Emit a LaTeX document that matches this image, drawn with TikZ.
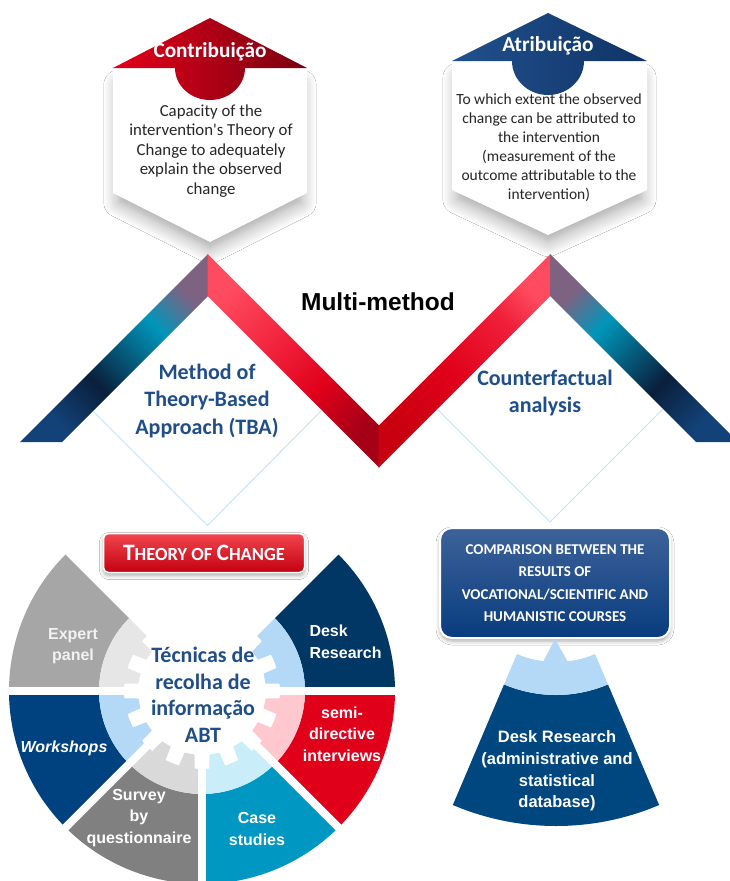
\documentclass[tikz,border=0pt]{standalone}
\usepackage{fontspec}
\setmainfont{Carlito}
\newfontfamily\arialfont{Liberation Sans}
\usetikzlibrary{calc,positioning,shadows.blur}

\definecolor{capred}{HTML}{E2001A}
\definecolor{capdark}{HTML}{7A0010}
\definecolor{capblue}{HTML}{21508E}
\definecolor{capblueD}{HTML}{0F3466}
\definecolor{txtblue}{HTML}{1F4E89}
\definecolor{linkblue}{HTML}{C6E0FA}
\definecolor{navyA}{HTML}{134279}
\definecolor{navyK}{HTML}{0A1F3C}
\definecolor{tealM}{HTML}{0096BA}
\definecolor{mauve}{HTML}{7E6282}
\definecolor{pinkR}{HTML}{FF4B5F}
\definecolor{redB}{HTML}{F0203A}
\definecolor{redM}{HTML}{E0001A}
\definecolor{redC}{HTML}{C8000F}
\definecolor{redD}{HTML}{A60017}
\definecolor{tocTop}{HTML}{F2454F}
\definecolor{tocBot}{HTML}{C4000F}
\definecolor{cmpTop}{HTML}{3D6299}
\definecolor{cmpBot}{HTML}{083C7E}
\definecolor{expertD}{HTML}{A6A6A6}
\definecolor{expertL}{HTML}{E6E6E6}
\definecolor{deskD}{HTML}{003764}
\definecolor{deskL}{HTML}{B4D9F7}
\definecolor{semiD}{HTML}{E0001A}
\definecolor{semiL}{HTML}{FFC7CE}
\definecolor{caseD}{HTML}{0098C3}
\definecolor{caseL}{HTML}{C9EEFA}
\definecolor{surveyD}{HTML}{808080}
\definecolor{surveyL}{HTML}{D9D9D9}
\definecolor{workD}{HTML}{00427F}
\definecolor{workL}{HTML}{B4D9F7}
\definecolor{coneD}{HTML}{00467F}
\definecolor{coneL}{HTML}{B4D9F7}

\pgfdeclarehorizontalshading{legup}{100bp}{color(0bp)=(navyA); color(25bp)=(navyA); color(40bp)=(navyK); color(62bp)=(tealM); color(74bp)=(mauve); color(100bp)=(mauve)}
\pgfdeclarehorizontalshading{legvdown}{100bp}{color(0bp)=(pinkR); color(25bp)=(pinkR); color(45bp)=(redB); color(60bp)=(redM); color(75bp)=(redD); color(100bp)=(redD)}
\pgfdeclarehorizontalshading{legvup}{100bp}{color(0bp)=(redC); color(25bp)=(redC); color(45bp)=(redM); color(65bp)=(redB); color(75bp)=(pinkR); color(100bp)=(pinkR)}
\pgfdeclarehorizontalshading{legdown}{100bp}{color(0bp)=(mauve); color(26bp)=(mauve); color(38bp)=(tealM); color(60bp)=(navyK); color(75bp)=(navyA); color(100bp)=(navyA)}

\newcommand{\bigsc}[1]{{\fontsize{23.5}{24}\selectfont #1}}

\begin{document}
\begin{tikzpicture}[x=1pt,y=-1pt,
  hexbody/.style={fill=white, blur shadow={shadow xshift=0pt, shadow yshift=-14pt, shadow scale=0.94, shadow blur radius=16pt, shadow blur steps=12, shadow opacity=38}},
  captitle/.style={text=white, font=\bfseries\fontsize{21.3}{24}\selectfont},
  hextxt/.style={align=center, text=black!85, font=\fontsize{15.5}{19}\selectfont},
  methodtxt/.style={align=center, text=txtblue, font=\bfseries\fontsize{22}{27.5}\selectfont},
  linkline/.style={draw=linkblue, line width=0.9pt},
  pielabel/.style={align=center, text=white, font=\arialfont\bfseries\fontsize{16}{21.7}\selectfont},
  tocbox/.style={rounded corners=5pt, draw=white, line width=1.5pt, top color=tocTop, bottom color=tocBot,
    minimum width=201pt, minimum height=39pt, text=white, font=\bfseries\fontsize{18.5}{20}\selectfont,
    blur shadow={shadow xshift=0pt, shadow yshift=-3pt, shadow blur radius=4pt, shadow opacity=35}},
  cmpbox/.style={rounded corners=12pt, draw=white, line width=2pt, top color=cmpTop, bottom color=cmpBot,
    minimum width=230pt, minimum height=110pt, text=white, align=center, font=\bfseries\fontsize{15}{22.5}\selectfont,
    blur shadow={shadow xshift=0pt, shadow yshift=-3pt, shadow blur radius=4pt, shadow opacity=35}}]

\useasboundingbox (0,0) rectangle (729,881);
\fill[white] (0,0) rectangle (729,881);

% hexagons
\path[hexbody] (113,68) -- (210,18) -- (307,68) -- (307,193) -- (210,242) -- (113,193) -- cycle;
\shade[left color=capred, right color=capdark] (113,68) -- (210,18) -- (307,68) -- (245,68)
  arc[start angle=0, end angle=180, x radius=35, y radius=32] -- cycle;
\node[captitle] (contrib) at (210,52) {Contribuição};
\node[hextxt, font=\fontsize{16.8}{19.5}\selectfont] (contribtxt) at (211,151)
  {Capacity of the\\intervention\textquotesingle s Theory of\\Change to adequately\\explain the observed\\change};

\path[hexbody] (452,61) -- (548,13) -- (647,61) -- (647,190) -- (548,235) -- (452,190) -- cycle;
\shade[left color=capblue, right color=capblueD] (452,61) -- (548,13) -- (647,61) -- (584,61)
  arc[start angle=0, end angle=180, x radius=36, y radius=34] -- cycle;
\node[captitle] (atrib) at (548,46) {Atribuição};
\node[hextxt] (atribtxt) at (549,148) {To which extent the observed\\change can be attributed to\\the intervention\\(measurement of the\\outcome attributable to the\\intervention)};

% the M band
\shade[shading=legup, shading angle=45] (20,442) -- (208,254) -- (208,296) -- (62,442) -- cycle;
\shade[shading=legvdown, shading angle=-45] (207.6,254) -- (379.4,425.8) -- (379.4,467.8) -- (207.6,296) -- cycle;
\shade[shading=legvup, shading angle=45] (378.6,425.8) -- (550.4,254) -- (550.4,296) -- (378.6,467.8) -- cycle;
\shade[shading=legdown, shading angle=-45] (550,254) -- (738,442) -- (696,442) -- (550,296) -- cycle;

\node[font=\arialfont\bfseries\fontsize{24.5}{28}\selectfont] (multi) at (378,302) {Multi-method};
\node[methodtxt] (tba) at (207,401) {Method of\\Theory-Based\\Approach (TBA)};
\node[methodtxt] (cfa) at (545,393) {Counterfactual\\analysis};

\coordinate (tbaL) at (93,411);
\coordinate (tbaB) at (207.5,525.5);
\coordinate (tbaR) at (322,410);
\coordinate (cfaL) at (437,409);
\coordinate (cfaB) at (550,522);
\coordinate (cfaR) at (663,409);
\draw[linkline] (tbaL) -- (tbaB) -- (tbaR);
\draw[linkline] (cfaL) -- (cfaB) -- (cfaR);

% techniques wheel
\coordinate (pc) at (202,691);
\foreach \a/\b/\dk/\lt in {180/225/expertD/expertL, 315/360/deskD/deskL, 0/45/semiD/semiL,
    45/90/caseD/caseL, 90/135/surveyD/surveyL, 135/180/workD/workL}{
  \fill[\dk] ($(pc)+(\a:193)$) arc[start angle=\a, end angle=\b, radius=193]
    -- ($(pc)+(\b:103)$) arc[start angle=\b, end angle=\a, radius=103] -- cycle;
  \fill[\lt] ($(pc)+(\a:103)$) arc[start angle=\a, end angle=\b, radius=103]
    -- ($(pc)+(\b:78)$) arc[start angle=\b, end angle=\a, radius=78] -- cycle;
  \foreach \t in {0.25,0.75}{
    \pgfmathsetmacro\m{\a+45*\t}
    \fill[\lt] ($(pc)+(\m-6:79)$) -- ($(pc)+(\m-4.5:64)$) -- ($(pc)+(\m+4.5:64)$) -- ($(pc)+(\m+6:79)$) -- cycle;
  }
}
\foreach \a in {0,45,90,135,180}
  \draw[white, line width=8pt] (pc) -- ++(\a:200);

\node[pielabel, text=white!95!black] (expert) at (73,646) {Expert\\panel};
\node[pielabel, align=left, anchor=west] (deskres) at (306,642) {Desk\\Research};
\node[pielabel] (semi) at (342,734) {semi-\\directive\\interviews};
\node[pielabel, font=\arialfont\bfseries\itshape\fontsize{16}{21.7}\selectfont] (work) at (64,748) {Workshops};
\node[pielabel] (survey) at (139,818) {Survey\\by\\questionnaire};
\node[pielabel] (casest) at (257,829) {Case\\studies};
\node[align=center, text=txtblue, font=\bfseries\fontsize{22}{26.5}\selectfont] (tecn) at (203,695)
  {Técnicas de\\recolha de\\informação\\ABT};

\node[tocbox] (toc) at (204,553) {\bigsc{T}HEORY OF \bigsc{C}HANGE};

% counterfactual side
\node[cmpbox] (cmp) at (555,583) {COMPARISON BETWEEN THE\\RESULTS OF\\VOCATIONAL/SCIENTIFIC AND\\HUMANISTIC COURSES};

\coordinate (ap) at (556,562);
\fill[coneD] ($(ap)+(67:264)$) arc[start angle=67, end angle=113, radius=264]
  -- ($(ap)+(113:133)$) arc[start angle=113, end angle=67, radius=133] -- cycle;
\fill[coneL] ($(ap)+(67:133)$) arc[start angle=67, end angle=113, radius=133]
  -- ($(ap)+(113:100)$) arc[start angle=113, end angle=67, radius=100] -- cycle;
\fill[coneL] (542,664) -- (cmp.south) -- (569,664) -- cycle;
\node[pielabel, font=\arialfont\bfseries\fontsize{16.5}{21.7}\selectfont] (deskdb) at (557,771)
  {Desk Research\\(administrative and\\statistical\\database)};

\end{tikzpicture}
\end{document}
